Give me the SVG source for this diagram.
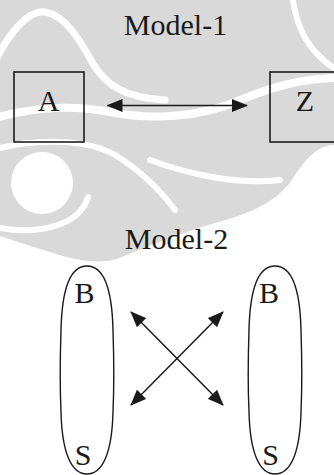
<svg xmlns="http://www.w3.org/2000/svg" width="334" height="475" viewBox="0 0 334 475">
<defs>
<style>
.t{font-family:"Liberation Serif","Times New Roman",serif;font-size:30px;fill:#1a1a1a;text-anchor:middle}
.box{fill:none;stroke:#111;stroke-width:1.5}
.ov{fill:none;stroke:#1a1a1a;stroke-width:1.4}
.ln{stroke:#1a1a1a;stroke-width:1.5;fill:none}
.wb{fill:none;stroke:#fff;stroke-linecap:round}
</style>
<marker id="ah" viewBox="0 0 16 13" refX="15" refY="6.5" markerWidth="16" markerHeight="13" markerUnits="userSpaceOnUse" orient="auto-start-reverse">
<path d="M0,0 L16,6.5 L0,13 Z" fill="#1a1a1a"/>
</marker>
</defs>
<rect width="334" height="475" fill="#fff"/>
<g id="watermark">
<path fill="#d9d9d9" d="M0,0 H334 V145 C318,145 305,160 295,175 C282,198 255,212 225,220 C190,230 150,245 122,257 C100,266 75,260 50,252 C30,246 12,240 0,236 Z"/>
<path class="wb" stroke-width="7" d="M-5,62 C10,30 30,10 45,12 C65,15 80,40 92,62 C105,85 125,98 165,100"/>
<path class="wb" stroke-width="8" d="M-5,118 C30,108 70,104 110,112 C150,120 200,118 240,100 C270,88 300,78 340,78"/>
<path class="wb" stroke-width="6" d="M292,-5 C296,25 306,52 340,72"/>
<circle cx="42" cy="183" r="31" fill="#fff"/>
<path class="wb" stroke-width="6" d="M88,197 C80,225 40,235 0,228"/>
<path class="wb" stroke-width="6" d="M0,148 C40,138 90,140 115,155 C140,170 160,190 175,210"/>
<path class="wb" stroke-width="6" d="M150,160 C190,175 240,185 280,180"/>
</g>
<g id="title1"><text class="t" x="175.5" y="35">Model-1</text></g>
<g id="nodeA"><rect class="box" x="14" y="72" width="70" height="70"/><text class="t" x="48.5" y="111">A</text></g>
<g id="nodeZ"><rect class="box" x="270" y="72" width="70" height="70"/><text class="t" x="305" y="111">Z</text></g>
<g id="title2"><text class="t" x="176.5" y="249">Model-2</text></g>
<g id="nodeBS1"><path class="ov" d="M87,266 C71,266 62,288 61,330 C60,360 60,390 61,412 C62,452 71,474 87,474 C103,474 112,452 113,412 C114,390 114,360 113,330 C112,288 103,266 87,266 Z"/><text class="t" x="84.5" y="303">B</text><text class="t" x="83" y="465">S</text></g>
<g id="nodeBS2"><path class="ov" d="M275,266 C259,266 250,288 249,330 C248,360 248,390 249,412 C250,452 259,474 275,474 C291,474 300,452 301,412 C302,390 302,360 301,330 C300,288 291,266 275,266 Z"/><text class="t" x="269" y="303">B</text><text class="t" x="270.5" y="465">S</text></g>
<g id="connectors">
<line class="ln" x1="107.5" y1="105.5" x2="247" y2="105.5" marker-start="url(#ah)" marker-end="url(#ah)"/>
<line class="ln" x1="131" y1="312" x2="223" y2="405" marker-start="url(#ah)" marker-end="url(#ah)"/>
<line class="ln" x1="223" y1="312" x2="131" y2="405" marker-start="url(#ah)" marker-end="url(#ah)"/>
</g>
</svg>
